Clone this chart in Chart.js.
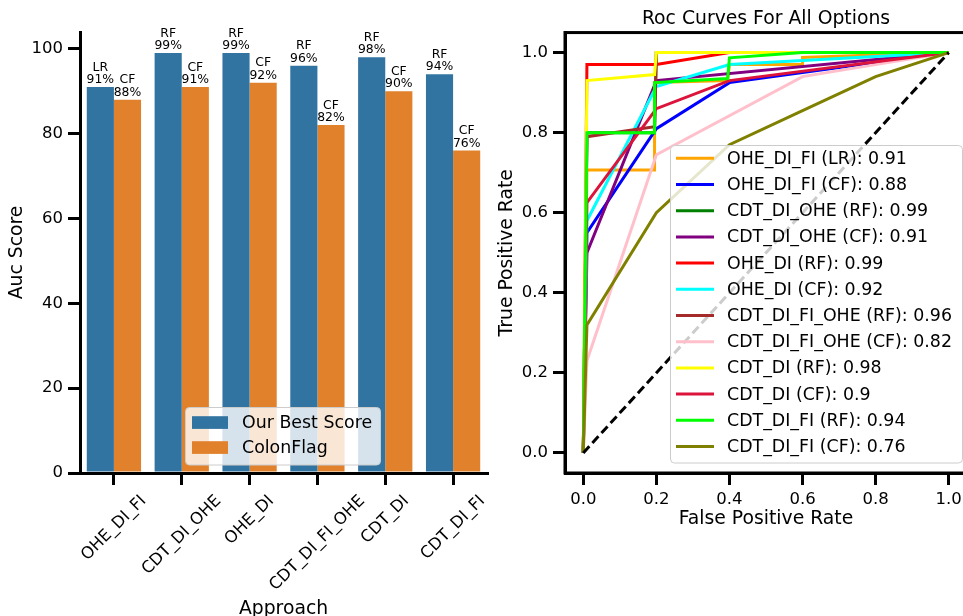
<!DOCTYPE html>
<html>
<head>
<meta charset="utf-8">
<script src="https://cdn.jsdelivr.net/npm/chart.js@4.4.0/dist/chart.umd.min.js"></script>
<style>
  html, body { margin: 0; padding: 0; background: #fff; overflow: hidden; width: 963px; height: 616px; }
  #barChart { position: absolute; left: 0; top: 0; }
  #rocChart { position: absolute; left: 490px; top: 0; }
</style>
</head>
<body>
<canvas id="barChart" width="490" height="616"></canvas>
<canvas id="rocChart" width="480" height="616"></canvas>
<script>
// Bar chart data
const approaches = ['OHE_DI_FI', 'CDT_DI_OHE', 'OHE_DI', 'CDT_DI_FI_OHE', 'CDT_DI', 'CDT_DI_FI'];
const barSeries = ['Our Best Score', 'ColonFlag'];
const bestScores = [91, 99, 99, 96, 98, 94];
const bestModels = ['LR', 'RF', 'RF', 'RF', 'RF', 'RF'];
const colonFlagScores = [88, 91, 92, 82, 90, 76];
const colonFlagModels = ['CF', 'CF', 'CF', 'CF', 'CF', 'CF'];

// ROC data
const rocNames = [
  'OHE_DI_FI (LR)', 'OHE_DI_FI (CF)', 'CDT_DI_OHE (RF)', 'CDT_DI_OHE (CF)',
  'OHE_DI (RF)', 'OHE_DI (CF)', 'CDT_DI_FI_OHE (RF)', 'CDT_DI_FI_OHE (CF)',
  'CDT_DI (RF)', 'CDT_DI (CF)', 'CDT_DI_FI (RF)', 'CDT_DI_FI (CF)'
];
const rocAuc = [0.91, 0.88, 0.99, 0.91, 0.99, 0.92, 0.96, 0.82, 0.98, 0.9, 0.94, 0.76];
const rocFpr = [
  [0, 0.01, 0.195, 0.195, 0.395, 0.4, 0.6, 0.6, 1],
  [0, 0.01, 0.2, 0.4, 1],
  [0, 0.01, 0.195, 0.2, 1],
  [0, 0.01, 0.2, 1],
  [0, 0.01, 0.2, 0.4, 1],
  [0, 0.01, 0.2, 0.4, 1],
  [0, 0.01, 0.195, 0.2, 1],
  [0, 0.01, 0.2, 0.6, 1],
  [0, 0.01, 0.195, 0.2, 1],
  [0, 0.01, 0.2, 0.4, 1],
  [0, 0.01, 0.195, 0.195, 0.395, 0.4, 0.6, 1],
  [0, 0.01, 0.2, 0.4, 0.6, 0.8, 1]
];
const rocTpr = [
  [0, 0.707, 0.707, 0.925, 0.93, 0.97, 0.97, 0.988, 1],
  [0, 0.55, 0.81, 0.925, 1],
  [0, 0.8, 0.8, 1, 1],
  [0, 0.5, 0.93, 1],
  [0, 0.97, 0.97, 1, 1],
  [0, 0.58, 0.915, 0.97, 1],
  [0, 0.79, 0.815, 1, 1],
  [0, 0.23, 0.745, 0.94, 1],
  [0, 0.93, 0.945, 1, 1],
  [0, 0.625, 0.86, 0.93, 1],
  [0, 0.8, 0.8, 0.925, 0.935, 0.987, 1, 1],
  [0, 0.32, 0.6, 0.77, 0.855, 0.94, 1]
];
const chanceFpr = [0, 1];
const chanceTpr = [0, 1];

const rocColors = ['#ffa500', '#0000ff', '#008000', '#800080', '#ff0000', '#00ffff',
  '#a52a2a', '#ffc0cb', '#ffff00', '#dc143c', '#00ff00', '#808000'];
const barColors = ['#3274a1', '#e1812c'];

Chart.defaults.font.family = "'DejaVu Sans', sans-serif";
Chart.defaults.color = '#000';

const FONT = "'DejaVu Sans', sans-serif";
const LEGEND_SIZE = 17.4;
const LABEL_SIZE = 18.8;
const TICK_SIZE = 16.5;

function roundedBox(ctx, x, y, w, h, r) {
  ctx.beginPath();
  ctx.moveTo(x + r, y);
  ctx.lineTo(x + w - r, y);
  ctx.arcTo(x + w, y, x + w, y + r, r);
  ctx.lineTo(x + w, y + h - r);
  ctx.arcTo(x + w, y + h, x + w - r, y + h, r);
  ctx.lineTo(x + r, y + h);
  ctx.arcTo(x, y + h, x, y + h - r, r);
  ctx.lineTo(x, y + r);
  ctx.arcTo(x, y, x + r, y, r);
  ctx.closePath();
  ctx.fillStyle = 'rgba(255,255,255,0.8)';
  ctx.fill();
  ctx.strokeStyle = '#cccccc';
  ctx.lineWidth = 1;
  ctx.stroke();
}

function axisStyle() {
  return {
    grid: { display: true, drawOnChartArea: false, offset: false, tickLength: 12, tickWidth: 3, lineWidth: 3, tickColor: '#000' },
    border: { display: true, color: '#000', width: 3 }
  };
}

// model + percent labels above every bar
const barLabels = {
  id: 'barLabels',
  afterDatasetsDraw(chart) {
    const ctx = chart.ctx;
    ctx.save();
    ctx.font = '12.4px ' + FONT;
    ctx.fillStyle = '#000';
    ctx.textAlign = 'center';
    ctx.textBaseline = 'alphabetic';
    chart.data.datasets.forEach((ds, di) => {
      chart.getDatasetMeta(di).data.forEach((bar, i) => {
        ctx.fillText(ds.models[i], bar.x, bar.y - 16.3);
        ctx.fillText(ds.data[i] + '%', bar.x, bar.y - 4);
      });
    });
    ctx.restore();
  }
};

// rotated category labels centred on their ticks
const rotatedTicks = {
  id: 'rotatedTicks',
  afterDraw(chart) {
    const ctx = chart.ctx;
    const xs = chart.scales.x;
    ctx.save();
    ctx.font = TICK_SIZE + 'px ' + FONT;
    ctx.fillStyle = '#000';
    ctx.textAlign = 'center';
    ctx.textBaseline = 'middle';
    chart.data.labels.forEach((label, i) => {
      const x = xs.getPixelForTick(i);
      const w = ctx.measureText(label).width;
      const half = (w + TICK_SIZE * 1.1) * Math.SQRT1_2 / 2;
      ctx.save();
      ctx.translate(x, xs.top + 19 + half);
      ctx.rotate(-Math.PI / 4);
      ctx.fillText(label, 0, 0);
      ctx.restore();
    });
    ctx.restore();
  }
};

const barLegend = {
  id: 'barLegend',
  afterDraw(chart) {
    const ctx = chart.ctx;
    ctx.save();
    roundedBox(ctx, 185.5, 407.5, 195, 57.5, 4);
    ctx.font = LEGEND_SIZE + 'px ' + FONT;
    ctx.textAlign = 'left';
    ctx.textBaseline = 'middle';
    chart.data.datasets.forEach((ds, i) => {
      const cy = 422.5 + i * 25;
      ctx.fillStyle = ds.backgroundColor;
      ctx.fillRect(192, cy - 6.3, 36, 12.7);
      ctx.fillStyle = '#000';
      ctx.fillText(ds.label, 242, cy + 1);
    });
    ctx.restore();
  }
};

new Chart(document.getElementById('barChart'), {
  type: 'bar',
  data: {
    labels: approaches,
    datasets: [
      { label: barSeries[0], data: bestScores, models: bestModels, backgroundColor: barColors[0] },
      { label: barSeries[1], data: colonFlagScores, models: colonFlagModels, backgroundColor: barColors[1] }
    ]
  },
  options: {
    responsive: false,
    animation: false,
    categoryPercentage: 0.8,
    barPercentage: 1.0,
    layout: { padding: { top: 32, right: 3, left: 0, bottom: 0 } },
    plugins: { legend: { display: false }, tooltip: { enabled: false } },
    scales: {
      x: {
        ...axisStyle(),
        ticks: { display: false },
        title: { display: true, text: 'Approach', font: { size: LABEL_SIZE }, color: '#000', padding: { top: 0, bottom: -4 } },
        afterFit: s => { s.height = 143; }
      },
      y: {
        ...axisStyle(),
        min: 0,
        max: 103.95,
        ticks: { stepSize: 20, includeBounds: false, font: { size: TICK_SIZE }, color: '#000', padding: 5 },
        title: { display: true, text: 'Auc Score', font: { size: LABEL_SIZE }, color: '#000', padding: { top: 6, bottom: 0 } },
        afterFit: s => { s.width = 80; }
      }
    }
  },
  plugins: [barLabels, rotatedTicks, barLegend]
});

// ROC chart: frame box and in-axes legend
const rocFrame = {
  id: 'rocFrame',
  afterDraw(chart) {
    const ctx = chart.ctx;
    const a = chart.chartArea;
    ctx.save();
    ctx.strokeStyle = '#000';
    ctx.lineWidth = 3;
    ctx.strokeRect(a.left, a.top, a.right - a.left, a.bottom - a.top);
    roundedBox(ctx, 180.5, 145.5, 292, 317.5, 4);
    ctx.font = LEGEND_SIZE + 'px ' + FONT;
    ctx.textAlign = 'left';
    ctx.textBaseline = 'middle';
    rocNames.forEach((name, i) => {
      const cy = 158.3 + i * 26.2;
      ctx.strokeStyle = rocColors[i];
      ctx.lineWidth = 3;
      ctx.beginPath();
      ctx.moveTo(186, cy);
      ctx.lineTo(224, cy);
      ctx.stroke();
      ctx.fillStyle = '#000';
      ctx.fillText(name + ': ' + rocAuc[i], 237, cy + 1);
    });
    ctx.restore();
  }
};

const rocDatasets = rocNames.map((name, i) => ({
  label: name + ': ' + rocAuc[i],
  data: rocFpr[i].map((x, j) => ({ x: x, y: rocTpr[i][j] })),
  borderColor: rocColors[i],
  backgroundColor: rocColors[i],
  borderWidth: 3,
  showLine: true,
  pointRadius: 0,
  tension: 0,
  order: -i
}));
rocDatasets.push({
  label: 'chance',
  data: chanceFpr.map((x, j) => ({ x: x, y: chanceTpr[j] })),
  borderColor: '#000',
  borderWidth: 3,
  borderDash: [9, 4.5],
  showLine: true,
  pointRadius: 0,
  order: -100
});

new Chart(document.getElementById('rocChart'), {
  type: 'scatter',
  data: { datasets: rocDatasets },
  options: {
    responsive: false,
    animation: false,
    layout: { padding: { top: 0, right: 3, left: 0, bottom: 0 } },
    plugins: {
      legend: { display: false },
      tooltip: { enabled: false },
      title: {
        display: true,
        fullSize: false,
        text: 'Roc Curves For All Options',
        font: { size: LABEL_SIZE, weight: 'normal' },
        color: '#000',
        padding: { top: 7.5, bottom: 2.5 }
      }
    },
    scales: {
      x: {
        ...axisStyle(),
        type: 'linear',
        min: -0.05,
        max: 1.05,
        ticks: { stepSize: 0.2, includeBounds: false, font: { size: TICK_SIZE }, color: '#000', padding: 5,
          callback: v => v.toFixed(1) },
        title: { display: true, text: 'False Positive Rate', font: { size: LABEL_SIZE }, color: '#000', padding: { top: 0, bottom: 86 } },
        afterFit: s => { s.height = 143; }
      },
      y: {
        ...axisStyle(),
        min: -0.05,
        max: 1.05,
        ticks: { stepSize: 0.2, includeBounds: false, font: { size: TICK_SIZE }, color: '#000', padding: 5,
          callback: v => v.toFixed(1) },
        title: { display: true, text: 'True Positive Rate', font: { size: LABEL_SIZE }, color: '#000', padding: { top: 6, bottom: 0 } },
        afterFit: s => { s.width = 75; }
      }
    }
  },
  plugins: [rocFrame]
});
</script>
</body>
</html>
